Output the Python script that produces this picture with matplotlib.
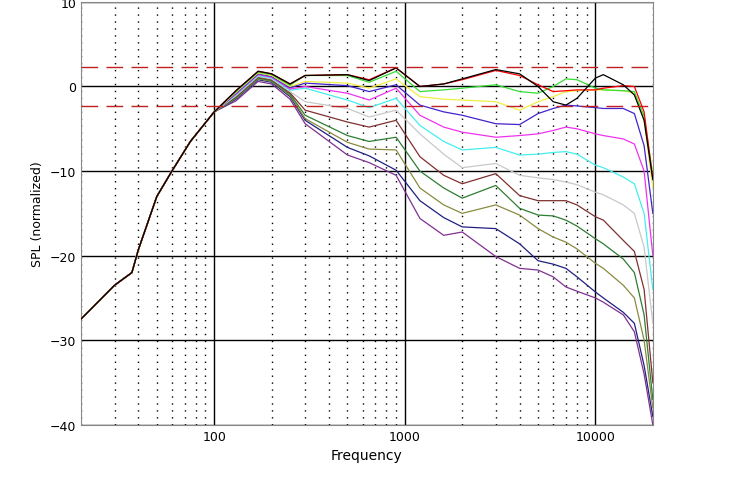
import numpy as np
import matplotlib
matplotlib.use("Agg")
import matplotlib.pyplot as plt
from matplotlib.ticker import FixedLocator, NullFormatter

# frequency points (Hz)
low_freq = [20, 30, 37, 40, 50, 60, 75, 100, 130, 170, 200, 250]
high_freq = [300, 500, 650, 900, 1200, 1600, 2000, 3000, 4000, 5000, 6000,
             7000, 8000, 10000, 11000, 14000, 16000, 18000, 20000]

# shared low-frequency response and how far each curve sits below the top one
low_base = [-27.5, -23.5, -22.0, -19.3, -13.0, -10.0, -6.5, -3.0, -0.5, 1.8, 1.5, 0.3]
low_offset = [0.0, 0.0, -0.1, -0.2, -0.3, -0.4, -0.5, -0.6, -0.7, -0.8, -0.9, -1.0, -1.2]

colors = ["black", "red", "#33dd33", "#eeee44", "#4422cc", "#ee33ee", "#44eeee",
          "#c8c8c8", "#803030", "#2e7d32", "#8a8a40", "#202080", "#803090"]

high_spl = [
    [1.3, 1.4, 0.7, 2.2, 0.0, 0.3, 0.9, 2.0, 1.5, 0.0, -1.8, -2.2, -1.4, 1.0, 1.4, 0.2, -1.0, -4, -11],
    [1.3, 1.4, 0.8, 2.2, 0.0, 0.3, 0.8, 1.9, 1.3, 0.2, -0.6, -0.5, -0.4, -0.4, -0.2, 0.1, 0.0, -3, -11],
    [1.3, 1.3, 0.5, 1.8, -0.6, -0.4, -0.2, 0.2, -0.6, -0.8, 0.0, 0.9, 0.8, -0.2, -0.4, -0.5, -0.6, -3.5, -10.5],
    [0.6, 0.4, -0.2, 0.9, -1.2, -1.5, -1.6, -1.8, -2.8, -1.8, -1.2, -0.6, -0.5, -0.4, -0.4, -0.5, -0.8, -4, -12],
    [0.4, 0.1, -0.6, 0.2, -2.2, -3.0, -3.4, -4.4, -4.5, -3.2, -2.6, -2.2, -2.3, -2.5, -2.6, -2.6, -3.2, -7, -15],
    [0.0, -0.8, -1.6, -0.2, -3.4, -4.8, -5.4, -6.0, -5.8, -5.6, -5.2, -4.8, -5.0, -5.6, -5.8, -6.2, -6.8, -10, -20],
    [-0.2, -1.6, -2.5, -1.4, -4.6, -6.5, -7.5, -7.2, -8.1, -8.0, -7.8, -7.7, -8.0, -9.3, -9.6, -10.7, -11.5, -15, -24],
    [-1.8, -2.6, -3.6, -2.8, -5.6, -8.0, -9.6, -9.1, -10.5, -10.8, -11.0, -11.3, -11.6, -12.5, -12.8, -14, -15, -19, -28],
    [-2.8, -4.2, -4.8, -4.0, -8.3, -10.5, -11.5, -10.3, -12.9, -13.5, -13.5, -13.5, -14, -15.4, -15.8, -18.2, -19.5, -24, -35],
    [-3.4, -5.8, -6.5, -6.0, -10, -12, -13.2, -11.7, -14.4, -15.2, -15.3, -15.8, -16.5, -18, -18.6, -20.4, -22, -27, -37],
    [-3.8, -6.6, -7.4, -7.5, -12, -14, -15, -14, -15.2, -16.8, -17.8, -18.4, -19.2, -20.9, -21.5, -23.5, -25, -30, -38],
    [-4.0, -7.2, -8.2, -9.9, -13.5, -15.5, -16.6, -16.8, -18.6, -20.6, -21, -21.5, -22.5, -24.3, -25, -26.7, -28, -33, -39],
    [-4.4, -8.1, -9.0, -10.5, -15.6, -17.6, -17.2, -20.1, -21.5, -21.7, -22.5, -23.7, -24.2, -25, -25.5, -27, -29, -34, -40],
]

tolerance = [2.3, -2.3]

fig = plt.figure(figsize=(7.36, 4.85), dpi=100)
ax = fig.add_axes([0.110, 0.122, 0.777, 0.872])

freqs = low_freq + high_freq
for i, (c, hs) in enumerate(zip(colors, high_spl)):
    lows = [b + (low_offset[i] if f >= 130 else 0) * (1.5 if f == 250 else 1)
            for f, b in zip(low_freq, low_base)]
    ax.plot(freqs, lows + hs, color=c, lw=0.9, zorder=3 + 13 - i)

for t in tolerance:
    ax.axhline(t, color="#c02020", lw=1.0, dashes=(12, 6), zorder=20)

ax.set_xscale("log")
ax.set_xlim(20, 20000)
ax.set_ylim(-40, 10)
ax.xaxis.set_major_locator(FixedLocator([100, 1000, 10000]))
ax.set_xticklabels(["100", "1000", "10000"])
minors = [m * d for d in [10, 100, 1000, 10000] for m in range(2, 10) if 20 <= m * d <= 20000]
ax.xaxis.set_minor_locator(FixedLocator(minors))
ax.xaxis.set_minor_formatter(NullFormatter())
ax.set_yticks([-40, -30, -20, -10, 0, 10])
ax.grid(True, which="major", color="black", lw=1.0, zorder=1)
ax.grid(True, which="minor", axis="x", color="black", lw=1.0, linestyle=(0, (1, 4)), zorder=1)
ax.tick_params(which="both", length=0, labelsize=9)
for s in ax.spines.values():
    s.set_color("#888888")
ax.set_xlabel("Frequency", fontsize=10)
ax.set_ylabel("SPL (normalized)", fontsize=9)

fig.savefig("out.png")
